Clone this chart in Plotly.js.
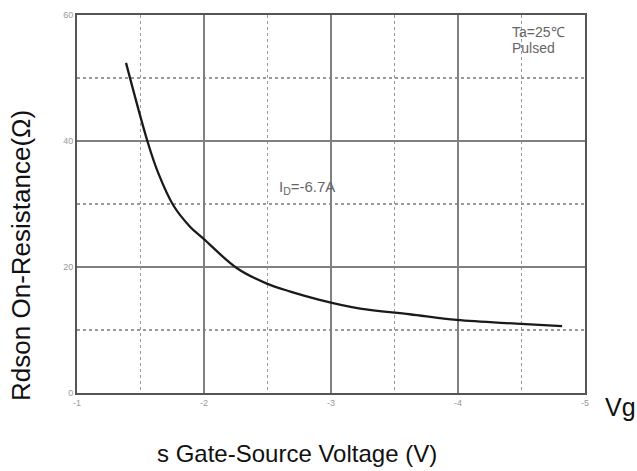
<!DOCTYPE html>
<html><head><meta charset="utf-8">
<script src="https://cdn.plot.ly/plotly-3.0.1.min.js"></script>
<style>html,body{margin:0;padding:0;background:#fff;}#chart{width:637px;height:471px;}</style>
</head><body><div id="chart"></div>
<script>
const vgs = [-1.386, -1.56, -1.64, -1.758, -1.89, -1.995, -2.26, -2.49, -2.68, -2.91, -3.23, -3.62, -3.99, -4.46, -4.82];
const rdson = [52.4, 39.6, 34.9, 29.8, 26.4, 24.5, 19.8, 17.4, 16.1, 14.8, 13.4, 12.5, 11.6, 11.0, 10.6];
const xTicks = [-1, -2, -3, -4, -5];
const xTickText = ['-1', '-2', '-3', '-4', '-5'];
const yTicks = [0, 20, 40, 60];
const yTickText = ['0', '20', '40', '60'];

const font = 'Liberation Sans, Arial, sans-serif';
const data = [{
  x: vgs, y: rdson, type: 'scatter', mode: 'lines',
  line: {color: '#1a1a1a', width: 2.3, shape: 'spline', smoothing: 1},
  hoverinfo: 'skip'
}];
const layout = {
  width: 637, height: 471,
  margin: {l: 77, r: 52, t: 15, b: 78},
  paper_bgcolor: '#fff', plot_bgcolor: '#fff',
  showlegend: false,
  font: {family: font},
  xaxis: {
    range: [-1, -5], tickvals: xTicks, ticktext: xTickText,
    showgrid: true, gridcolor: '#808080', gridwidth: 1.6,
    showline: true, linecolor: '#555', linewidth: 2, mirror: true,
    zeroline: false, ticks: '', ticklen: 0,
    tickfont: {size: 9, color: '#999', family: font},
    minor: {dtick: 0.5, tick0: -1, showgrid: true, gridcolor: '#999', griddash: 'dot', gridwidth: 1.3}
  },
  yaxis: {
    range: [0, 60], tickvals: yTicks, ticktext: yTickText,
    showgrid: true, gridcolor: '#808080', gridwidth: 1.6,
    showline: true, linecolor: '#555', linewidth: 2, mirror: true,
    zeroline: false, ticks: '', ticklen: 0,
    tickfont: {size: 9, color: '#999', family: font},
    minor: {dtick: 10, tick0: 0, showgrid: true, gridcolor: '#999', griddash: 'dot', gridwidth: 1.3}
  },
  annotations: [
    {xref: 'paper', yref: 'paper', x: 0.852, y: 0.955, xanchor: 'left', yanchor: 'middle', showarrow: false,
     text: 'Ta=25℃', font: {size: 14, color: '#666', family: font}},
    {xref: 'paper', yref: 'paper', x: 0.852, y: 0.912, xanchor: 'left', yanchor: 'middle', showarrow: false,
     text: 'Pulsed', font: {size: 14, color: '#666', family: font}},
    {xref: 'paper', yref: 'paper', x: 0.394, y: 0.544, xanchor: 'left', yanchor: 'middle', showarrow: false,
     text: 'I<sub>D</sub>=-6.7A', font: {size: 15, color: '#666', family: font}},
    {xref: 'paper', yref: 'paper', x: 1.035, y: -0.037, xanchor: 'left', yanchor: 'middle', showarrow: false,
     text: 'Vg', font: {size: 25, color: '#111', family: font}},
    {xref: 'paper', yref: 'paper', x: 0.433, y: -0.16, xanchor: 'center', yanchor: 'middle', showarrow: false,
     text: 's Gate-Source Voltage (V)', font: {size: 24, color: '#111', family: font}},
    {xref: 'paper', yref: 'paper', x: -0.11, y: 0.363, xanchor: 'center', yanchor: 'middle', showarrow: false, textangle: -90,
     text: 'Rdson On-Resistance(Ω)', font: {size: 26, color: '#111', family: font}}
  ]
};
Plotly.newPlot('chart', data, layout, {staticPlot: true, displayModeBar: false});
</script></body></html>
